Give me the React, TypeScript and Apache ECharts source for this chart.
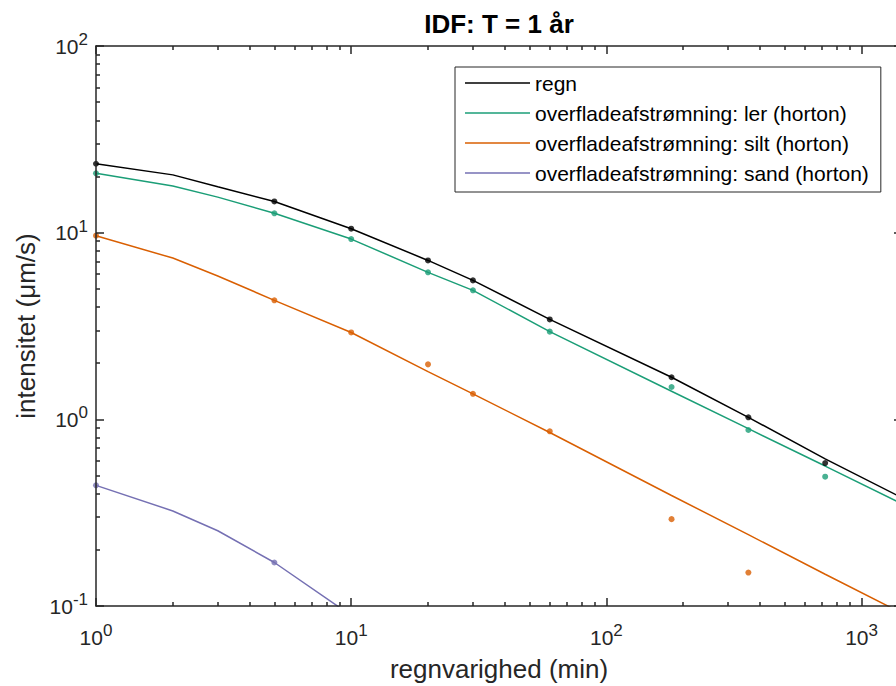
import React, { useEffect, useRef } from "react";
import * as echarts from "echarts";

// Curve (model) sample points: duration in minutes and intensity in µm/s
const curveMinutes = [1, 2, 3, 5, 10, 20, 30, 60, 180, 360, 720, 1440];
const regnCurve = [23.4, 20.4, 17.6, 14.7, 10.5, 7.1, 5.55, 3.43, 1.68, 1.025, 0.614, 0.38];
const lerCurve = [20.8, 17.8, 15.5, 12.7, 9.24, 6.13, 4.91, 2.95, 1.414, 0.891, 0.562, 0.353];
const siltCurve = [9.63, 7.31, 5.86, 4.34, 2.92, 1.8, 1.37, 0.85, 0.391, 0.241, 0.148, 0.0915];
const sandCurve = [0.443, 0.323, 0.253, 0.171, 0.089, null, null, null, null, null, null, null];

// Observed points (markers)
const obsMinutes = [1, 5, 10, 20, 30, 60, 180, 360, 720];
const regnObs = [23.4, 14.7, 10.5, 7.1, 5.55, 3.43, 1.68, 1.025, 0.583];
const lerObs = [20.8, 12.7, 9.24, 6.13, 4.91, 2.95, 1.49, 0.877, 0.493];
const siltObs = [9.63, 4.34, 2.92, 1.97, 1.37, 0.863, 0.292, 0.151, null];
const sandObs = [0.443, 0.171, null, null, null, null, null, null, null];

const seriesNames = [
  "regn",
  "overfladeafstrømning: ler (horton)",
  "overfladeafstrømning: silt (horton)",
  "overfladeafstrømning: sand (horton)",
];
const seriesColors = ["#000000", "#1b9e77", "#d95f02", "#7570b3"];

const xMinorTickValues = [2, 3, 4, 5, 6, 7, 8, 9, 20, 30, 40, 50, 60, 70, 80, 90, 200, 300, 400, 500, 600, 700, 800, 900];
const yMinorTickValues = [0.2, 0.3, 0.4, 0.5, 0.6, 0.7, 0.8, 0.9, 2, 3, 4, 5, 6, 7, 8, 9, 20, 30, 40, 50, 60, 70, 80, 90];

const X_MIN = 1;
const X_MAX = 1440;
const Y_MIN = 0.1;
const Y_MAX = 100;

const FONT = "'Liberation Sans', Arial, Helvetica, sans-serif";
const AXIS_COLOR = "#262626";

function pairs(xs: number[], ys: (number | null)[]) {
  const out: [number, number][] = [];
  xs.forEach((x, i) => {
    const y = ys[i];
    if (y != null) out.push([x, y]);
  });
  return out;
}

function powerLabel(v: number) {
  const l = Math.log10(v);
  const e = Math.round(l);
  if (Math.abs(l - e) > 1e-6) return "";
  return `{b|10}{s|${e}}`;
}

const richLabel = {
  b: { fontSize: 21, fontFamily: FONT, color: AXIS_COLOR, lineHeight: 30, verticalAlign: "middle" },
  s: { fontSize: 17, fontFamily: FONT, color: AXIS_COLOR, lineHeight: 13, verticalAlign: "top" },
};

function majorLogAxis(position: string, min: number, max: number, labels: boolean, extra: any = {}) {
  return {
    type: "log",
    logBase: 10,
    min,
    max,
    position,
    z: 10,
    axisLine: { show: true, onZero: false, lineStyle: { color: AXIS_COLOR, width: 1.5 } },
    axisTick: { show: true, inside: true, length: 8, lineStyle: { color: AXIS_COLOR, width: 1.5 } },
    minorTick: { show: false },
    splitLine: { show: false },
    minorSplitLine: { show: false },
    axisLabel: labels
      ? { show: true, formatter: powerLabel, rich: richLabel, color: AXIS_COLOR, hideOverlap: false }
      : { show: false },
    ...extra,
  };
}

function minorValueAxis(position: string, values: number[], min: number, max: number) {
  return {
    type: "value",
    min: Math.log10(min),
    max: Math.log10(max),
    position,
    z: 10,
    axisLine: { show: false, onZero: false },
    axisTick: {
      show: true,
      inside: true,
      length: 4,
      customValues: values.map((v) => Math.log10(v)),
      lineStyle: { color: AXIS_COLOR, width: 1.5 },
    },
    axisLabel: { show: false },
    splitLine: { show: false },
  };
}

export default function App() {
  const ref = useRef<HTMLDivElement>(null);

  useEffect(() => {
    if (!ref.current) return;
    const chart = echarts.init(ref.current, null, { renderer: "svg" });

    const curves = [regnCurve, lerCurve, siltCurve, sandCurve];
    const obs = [regnObs, lerObs, siltObs, sandObs];

    const lineSeries = seriesNames.map((name, i) => ({
      type: "line",
      name,
      xAxisIndex: 0,
      yAxisIndex: 0,
      data: pairs(curveMinutes, curves[i]),
      symbol: "none",
      showSymbol: false,
      color: seriesColors[i],
      lineStyle: { color: seriesColors[i], width: 1.5 },
      itemStyle: { color: seriesColors[i] },
      z: 2,
      silent: true,
    }));

    const dotSeries = seriesNames.map((name, i) => ({
      type: "scatter",
      name: name + " – data",
      xAxisIndex: 0,
      yAxisIndex: 0,
      data: pairs(obsMinutes, obs[i]),
      symbol: "circle",
      symbolSize: 6,
      itemStyle: { color: seriesColors[i] },
      z: 3,
      silent: true,
    }));

    const option: any = {
      animation: false,
      backgroundColor: "#ffffff",
      textStyle: { fontFamily: FONT },
      grid: {
        left: 96,
        top: 46,
        right: -6,
        bottom: 80,
        containLabel: false,
        outerBoundsMode: "none",
      },
      graphic: [
        {
          type: "text",
          x: 499,
          y: 11,
          style: {
            text: "IDF: T = 1 år",
            fontFamily: FONT,
            fontSize: 26,
            fontWeight: "bold",
            fill: "#000000",
            align: "center",
            verticalAlign: "top",
          },
        },
      ],
      legend: {
        data: seriesNames,
        orient: "vertical",
        left: 455,
        top: 67,
        icon: "rect",
        itemWidth: 65,
        itemHeight: 1.5,
        itemGap: 0,
        padding: [1, 12, 4, 10],
        borderColor: AXIS_COLOR,
        borderWidth: 1,
        backgroundColor: "#ffffff",
        selectedMode: false,
        textStyle: { fontFamily: FONT, fontSize: 21, color: "#000000", lineHeight: 30 },
      },
      xAxis: [
        majorLogAxis("bottom", X_MIN, X_MAX, true, {
          name: "regnvarighed (min)",
          nameLocation: "middle",
          nameGap: 50,
          nameTextStyle: { fontFamily: FONT, fontSize: 26, color: AXIS_COLOR },
          axisLabel: {
            show: true,
            formatter: powerLabel,
            rich: richLabel,
            color: AXIS_COLOR,
            margin: 16,
            hideOverlap: false,
          },
        }),
        majorLogAxis("top", X_MIN, X_MAX, false),
        minorValueAxis("bottom", xMinorTickValues, X_MIN, X_MAX),
        minorValueAxis("top", xMinorTickValues, X_MIN, X_MAX),
      ],
      yAxis: [
        majorLogAxis("left", Y_MIN, Y_MAX, true, {
          name: "intensitet (μm/s)",
          nameLocation: "middle",
          nameGap: 52,
          nameTextStyle: { fontFamily: FONT, fontSize: 26, color: AXIS_COLOR },
          axisLabel: {
            show: true,
            formatter: powerLabel,
            rich: richLabel,
            color: AXIS_COLOR,
            margin: 8,
            hideOverlap: false,
          },
        }),
        majorLogAxis("right", Y_MIN, Y_MAX, false),
        minorValueAxis("left", yMinorTickValues, Y_MIN, Y_MAX),
        minorValueAxis("right", yMinorTickValues, Y_MIN, Y_MAX),
      ],
      series: [...lineSeries, ...dotSeries],
    };

    chart.setOption(option);
    return () => {
      chart.dispose();
    };
  }, []);

  return (
    <div
      ref={ref}
      style={{ position: "absolute", left: 0, top: 0, width: 896, height: 686, background: "#ffffff" }}
    />
  );
}
